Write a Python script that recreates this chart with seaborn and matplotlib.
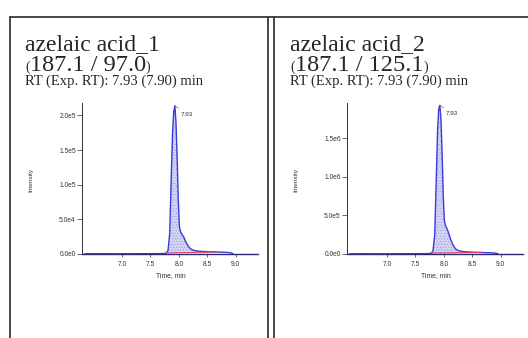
import numpy as np
import matplotlib
matplotlib.use("Agg")
import matplotlib.pyplot as plt
from matplotlib.lines import Line2D
from matplotlib.ticker import FuncFormatter
import seaborn as sns

# retention time (min), shared by both transitions
time = [6.35, 6.60, 6.90, 7.20, 7.50, 7.70, 7.75, 7.78, 7.81, 7.84, 7.87, 7.89, 7.91, 7.93,
        7.95, 7.97, 7.99, 8.01, 8.03, 8.06, 8.09, 8.12, 8.16, 8.20, 8.25, 8.35, 8.50,
        8.65, 8.80, 8.90, 8.95]
# intensity, azelaic acid_1 (187.1 / 97.0)
int_1 = [300, 350, 300, 400, 450, 600, 800, 1500, 5000, 30000, 120000, 175000, 205000, 214000,
         190000, 140000, 80000, 40000, 32000, 28000, 24000, 18000, 12000, 8000, 5500, 4000, 3300,
         3000, 2500, 2000, 500]
# intensity, azelaic acid_2 (187.1 / 125.1)
int_2 = [2500, 3000, 2500, 3500, 4000, 5000, 7000, 12000, 40000, 250000, 1050000, 1600000, 1880000,
         1930000, 1750000, 1300000, 750000, 430000, 370000, 320000, 260000, 190000, 120000, 70000,
         45000, 30000, 24000, 20000, 16000, 12000, 3000]

# integration baseline (red)
base_t = [7.78, 8.65]
base_1 = [1500, 2800]
base_2 = [12000, 20000]

names = ["azelaic acid_1", "azelaic acid_2"]
transitions = ["187.1 / 97.0", "187.1 / 125.1"]
rt_text = "RT (Exp. RT): 7.93 (7.90) min"
peak_rt = "7.93"
xticks = [7.0, 7.5, 8.0, 8.5, 9.0]
yticks_1 = [0, 5e4, 1e5, 1.5e5, 2e5]
yticks_2 = [0, 5e5, 1e6, 1.5e6]

sns.set_style("white")
plt.rcParams["hatch.linewidth"] = 0.3

W, H = 528, 338
fig = plt.figure(figsize=(W / 100, H / 100), dpi=100)


def fx(px):
    return px / W


def fy(py):
    return 1 - py / H


def sci(v, pos):
    m, e = f"{v:.1e}".split("e")
    return f"{m}e{int(e)}"


serif = "Liberation Serif"
sans = "Liberation Sans"

# frame lines of the report table
for seg in [([10, 528], [17, 17]), ([10, 10], [17, 338]),
            ([268, 268], [17, 338]), ([274, 274], [17, 338])]:
    fig.add_artist(Line2D([fx(p) for p in seg[0]], [fy(p) for p in seg[1]],
                          color="#3a3a3a", lw=1.3))

panels = [
    (0, int_1, base_1, yticks_1, (0, 2.18e5)),
    (265, int_2, base_2, yticks_2, (0, 1.96e6)),
]

t = np.array(time)
fig.canvas.draw()
renderer = fig.canvas.get_renderer()

for i, (dx, vals, base_v, yt, ylim) in enumerate(panels):
    y = np.array(vals)
    ax = fig.add_axes([fx(82 + dx), fy(254), (258 - 82) / W, (254 - 103) / H])
    sns.lineplot(x=t, y=y, ax=ax, color="#3b3bd6", lw=1.0)
    mask = (t >= base_t[0]) & (t <= base_t[1])
    b = np.interp(t[mask], base_t, base_v)
    ax.fill_between(t[mask], b, y[mask], facecolor="#d3d3f5", edgecolor="#8a8ad8",
                    hatch="......", lw=0)
    sns.lineplot(x=base_t, y=base_v, ax=ax, color="#e0405a", lw=0.8)

    ax.set_xlim(6.30, 9.39)
    ax.set_ylim(*ylim)
    ax.set_xticks(xticks)
    ax.set_xticklabels([f"{v:.1f}" for v in xticks])
    ax.set_yticks(yt)
    ax.yaxis.set_major_formatter(FuncFormatter(sci))
    ax.tick_params(axis="both", labelsize=4.8, colors="#333333", width=0.5)
    ax.tick_params(axis="y", length=3.5, pad=1, left=True)
    ax.tick_params(axis="x", length=2, pad=3, bottom=True)
    for lab in ax.get_xticklabels() + ax.get_yticklabels():
        lab.set_fontfamily(sans)
    ax.set_xlabel("")
    ax.set_ylabel("")
    for s in ["top", "right"]:
        ax.spines[s].set_visible(False)
    ax.spines["left"].set_color("#333333")
    ax.spines["bottom"].set_color("#2a2a70")
    ax.spines["left"].set_linewidth(0.7)
    ax.spines["bottom"].set_linewidth(1.0)
    ax.patch.set_alpha(0)

    pk = int(np.argmax(y))
    ax.annotate(peak_rt, xy=(t[pk], y[pk]), xytext=(4.5, -6), textcoords="offset points",
                fontsize=4.6, family=sans, color="#333333", ha="left", va="center",
                arrowprops=dict(arrowstyle="-", lw=0.4, color="#555555",
                                shrinkA=0, shrinkB=0))

    fig.text(fx(31 + dx), fy(180), "Intensity", rotation=90, fontsize=4.6, family=sans,
             color="#333333", ha="center", va="center")
    fig.text(fx(171 + dx), fy(276), "Time, min", fontsize=4.9, family=sans,
             color="#333333", ha="center", va="center")

    # headings
    x0 = 25 + dx
    fig.text(fx(x0), fy(50), names[i], fontsize=17, family=serif, va="baseline")
    p1 = fig.text(fx(x0), fy(71), "(", fontsize=10, family=serif, va="baseline")
    e = p1.get_window_extent(renderer)
    main = fig.text(e.x1 / W, fy(71), transitions[i], fontsize=17.5, family=serif,
                    va="baseline")
    e = main.get_window_extent(renderer)
    fig.text(e.x1 / W, fy(71), ")", fontsize=10, family=serif, va="baseline")
    fig.text(fx(x0), fy(85), rt_text, fontsize=10.5, family=serif, va="baseline")

fig.savefig("out.png", dpi=100)
